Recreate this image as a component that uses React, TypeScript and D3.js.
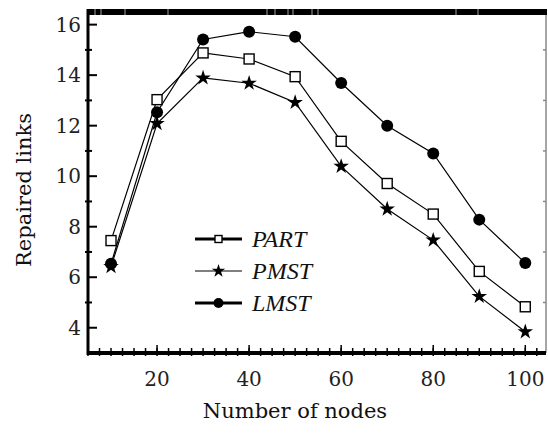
import * as d3 from "d3";

const nodes = [10, 20, 30, 40, 50, 60, 70, 80, 90, 100];
const part = [7.45, 13.03, 14.88, 14.64, 13.94, 11.38, 9.71, 8.5, 6.23, 4.83];
const pmst = [6.42, 12.08, 13.89, 13.68, 12.92, 10.39, 8.7, 7.47, 5.24, 3.84];
const lmst = [6.53, 12.53, 15.41, 15.72, 15.52, 13.69, 12.0, 10.9, 8.28, 6.56];
const yTicks = [4, 6, 8, 10, 12, 14, 16];
const xTicks = [20, 40, 60, 80, 100];

const W = 548;
const H = 438;
const L = 88, R = 546, T = 12, B = 353;

export default function App() {
  const x = d3.scaleLinear().domain([5, 104.5]).range([L, R]);
  const y = d3.scaleLinear().domain([3, 16.5]).range([B, T]);
  const line = d3
    .line<number>()
    .x((_, i) => x(nodes[i]))
    .y((d) => y(d));

  const star = d3.symbol(d3.symbolStar, 75)()!;
  const starSmall = d3.symbol(d3.symbolStar, 55)()!;
  const yMinor = d3.range(5, 16.5, 2);
  const xMinor = d3.range(5, 104, 2.5);

  const series = [
    { name: "PART", data: part, mark: "square", w: 3 },
    { name: "PMST", data: pmst, mark: "star", w: 1.2 },
    { name: "LMST", data: lmst, mark: "circle", w: 3 },
  ];

  const marker = (m: string, cx: number, cy: number, k: number, small = false) => {
    if (m === "square") {
      const s = small ? 7 : 10;
      return (
        <rect key={k} x={cx - s / 2} y={cy - s / 2} width={s} height={s}
          fill="#fff" stroke="#000" strokeWidth={1.4} />
      );
    }
    if (m === "star") {
      return <path key={k} d={small ? starSmall : star} transform={`translate(${cx},${cy})`} fill="#000" />;
    }
    return <circle key={k} cx={cx} cy={cy} r={small ? 5 : 6} fill="#000" />;
  };

  return (
    <svg width={W} height={H} style={{ position: "absolute", left: 0, top: 0, background: "#fff" }}>
      {/* frame */}
      <line x1={R} x2={R} y1={T} y2={B} stroke="#888" strokeWidth={1.5} />
      {yMinor.map((v) => (
        <line key={"rm" + v} x1={R - 3} x2={R} y1={y(v)} y2={y(v)} stroke="#888" strokeWidth={1.5} />
      ))}
      <rect x={L} y={T - 3} width={R - L + 1} height={6} fill="#000" />
      {[95, 101, 125, 168, 267, 275, 288, 293, 312, 318, 456, 478].map((px) => (
        <line key={"tb" + px} x1={px} x2={px} y1={T - 3} y2={T + 3} stroke="#ccc" strokeWidth={0.8} />
      ))}

      {/* left axis */}
      <line x1={L} x2={L} y1={T - 3} y2={B + 2} stroke="#000" strokeWidth={3} />
      {yTicks.map((v) => (
        <g key={"yt" + v}>
          <line x1={L} x2={L + 9} y1={y(v)} y2={y(v)} stroke="#000" strokeWidth={2} />
          <text x={L - 7} y={y(v)} dy="0.36em" textAnchor="end"
            fontFamily="DejaVu Serif" fontSize={20} fill="#222">{v}</text>
        </g>
      ))}
      {yMinor.map((v) => (
        <line key={"ym" + v} x1={L - 3} x2={L + 4} y1={y(v)} y2={y(v)} stroke="#000" strokeWidth={2} />
      ))}

      {/* bottom axis */}
      <line x1={L} x2={R} y1={B} y2={B} stroke="#000" strokeWidth={4} />
      {xMinor.map((v) => (
        <line key={"xm" + v} x1={x(v)} x2={x(v)} y1={B - 5} y2={B + 3} stroke="#000" strokeWidth={1.5} />
      ))}
      {xTicks.map((v) => (
        <g key={"xt" + v}>
          <line x1={x(v)} x2={x(v)} y1={B - 8} y2={B} stroke="#000" strokeWidth={1.5} />
          <text x={x(v)} y={B + 33} textAnchor="middle"
            fontFamily="DejaVu Serif" fontSize={20} fill="#222">{v}</text>
        </g>
      ))}

      {/* series */}
      {series.map((s) => (
        <g key={s.name}>
          <path d={line(s.data)!} fill="none" stroke="#000" strokeWidth={1.2} />
          {s.data.map((v, i) => marker(s.mark, x(nodes[i]), y(v), i))}
        </g>
      ))}

      {/* legend */}
      {series.map((s, i) => {
        const ly = 239 + i * 32;
        return (
          <g key={"lg" + s.name}>
            <line x1={195} x2={242} y1={ly} y2={ly} stroke="#000" strokeWidth={s.w} />
            {marker(s.mark, 218.5, ly, 0, true)}
            <text x={252} y={ly} dy="0.35em" fontFamily="Liberation Serif"
              fontStyle="italic" fontSize={24} fill="#111">{s.name}</text>
          </g>
        );
      })}

      {/* axis labels */}
      <text x={295} y={418} textAnchor="middle" fontFamily="DejaVu Serif"
        fontSize={21} fill="#111">Number of nodes</text>
      <text transform="translate(31,190) rotate(-90)" textAnchor="middle"
        fontFamily="DejaVu Serif" fontSize={21} fill="#111">Repaired links</text>
    </svg>
  );
}
